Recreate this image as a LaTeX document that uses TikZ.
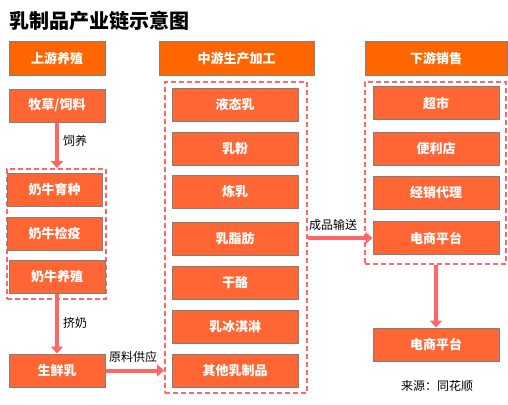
\documentclass[tikz,border=0pt]{standalone}
\usepackage{fontspec}
\setmainfont{Noto Sans CJK SC}
\usetikzlibrary{arrows.meta}
\definecolor{hdr}{HTML}{FF6600}
\definecolor{itm}{HTML}{FF6633}
\definecolor{red1}{HTML}{FF6666}
\definecolor{bord}{HTML}{7F7F7F}
\tikzset{
  hbox/.style={draw=bord,line width=1pt,fill=hdr,text=white,font=\bfseries\fontsize{13}{13}\selectfont,minimum height=33pt,inner sep=0pt},
  ibox/.style={draw=bord,line width=1pt,fill=itm,text=white,font=\bfseries\fontsize{13}{13}\selectfont,minimum height=33pt,inner sep=0pt},
  dbox/.style={draw=red1,line width=1.8pt,dash pattern=on 5pt off 3pt,inner sep=0pt},
  conn/.style={draw=red1,line width=4pt,-{Triangle[width=12pt,length=7pt]}},
  lbl/.style={font=\fontsize{12}{12}\selectfont,text=black,inner sep=0pt},
}
\begin{document}
\begin{tikzpicture}[x=1pt,y=-1pt]
\useasboundingbox (0,0) rectangle (508,404);
\node[font=\bfseries\fontsize{20}{20}\selectfont,anchor=west,inner sep=0pt] (title) at (9,21) {乳制品产业链示意图};
% headers
\node[hbox,minimum width=96pt] (H1) at (57,58.5) {上游养殖};
\node[hbox,minimum width=155pt] (H2) at (236.5,58.5) {中游生产加工};
\node[hbox,minimum width=142pt] (H3) at (436,58.5) {下游销售};
% dashed groups
\node[dbox,minimum width=99pt,minimum height=130pt] (LG) at (56.5,234) {};
\node[dbox,minimum width=142pt,minimum height=311pt] (MG) at (236,237.5) {};
\node[dbox,minimum width=141pt,minimum height=182pt] (RG) at (435.5,173) {};
% left column
\node[ibox,minimum width=96pt] (L0) at (57,105.5) {牧草/饲料};
\node[ibox,minimum width=95pt] (L1) at (54.5,189.5) {奶牛育种};
\node[ibox,minimum width=95pt] (L2) at (54.5,233.5) {奶牛检疫};
\node[ibox,minimum width=96pt] (L3) at (57,276.5) {奶牛养殖};
\node[ibox,minimum width=96pt] (L4) at (57,370.5) {生鲜乳};
% middle column
\node[ibox,minimum width=126pt] (M1) at (235,104.5) {液态乳};
\node[ibox,minimum width=126pt] (M2) at (235,148.5) {乳粉};
\node[ibox,minimum width=126pt] (M3) at (235,191.5) {炼乳};
\node[ibox,minimum width=126pt] (M4) at (235,238.5) {乳脂肪};
\node[ibox,minimum width=126pt] (M5) at (235,282.5) {干酪};
\node[ibox,minimum width=126pt] (M6) at (235,326.5) {乳冰淇淋};
\node[ibox,minimum width=126pt] (M7) at (235,370.5) {其他乳制品};
% right column
\node[ibox,minimum width=126pt] (R1) at (436,103) {超市};
\node[ibox,minimum width=126pt] (R2) at (436,149) {便利店};
\node[ibox,minimum width=126pt] (R3) at (436,193) {经销代理};
\node[ibox,minimum width=126pt] (R4) at (436,238) {电商平台};
\node[ibox,minimum width=126pt] (R5) at (436,344.5) {电商平台};
% connectors
\draw[conn] (L0.south) -- (L0.south |- LG.north);
\draw[conn] (L3.south) -- (L4.north);
\draw[conn] (L4.east) -- (L4.east -| MG.west);
\draw[conn] (MG.east |- R4.west) -- (R4.west);
\draw[conn] (RG.south -| R5.north) -- (R5.north);
% labels
\node[lbl,anchor=west] (t1) at (63,141) {饲养};
\node[lbl,anchor=west] (t2) at (63,323) {挤奶};
\node[lbl] (t3) at (133,357) {原料供应};
\node[lbl] (t4) at (333,225) {成品输送};
\node[lbl] (src) at (437,386) {来源：同花顺};
\end{tikzpicture}
\end{document}
